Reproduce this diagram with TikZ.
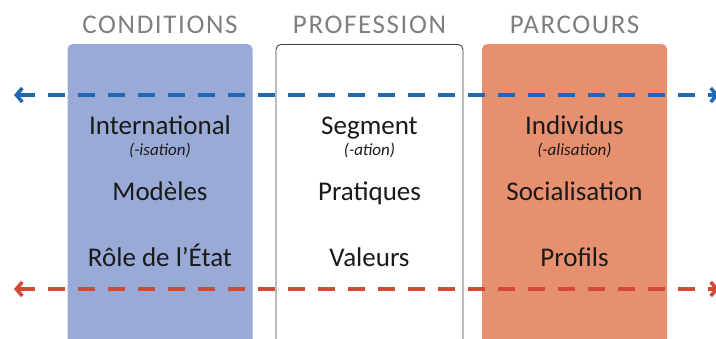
\documentclass[tikz,border=0pt]{standalone}
\usepackage{fontspec}
\setmainfont{Carlito}
\usetikzlibrary{arrows.meta}
\definecolor{boxblue}{HTML}{99AAD6}
\definecolor{boxorange}{HTML}{E6906F}
\definecolor{lineblue}{HTML}{1F69B4}
\definecolor{linered}{HTML}{D24A36}
\definecolor{headgray}{HTML}{7F7F7F}
\definecolor{txt}{HTML}{1A1A1A}
\tikzset{
  colbox/.style={rounded corners=5pt, minimum width=185pt, minimum height=310pt, anchor=north, inner sep=0pt},
  head/.style={font=\fontsize{27}{30}\selectfont\addfontfeature{LetterSpace=6}, text=headgray, anchor=base},
  item/.style={font=\fontsize{27}{30}\selectfont, text=txt, anchor=base},
  sub/.style={font=\fontsize{17}{19}\selectfont\itshape, text=txt, anchor=base},
  flow/.style={line width=4pt, dash pattern=on 17pt off 13pt, {Straight Barb[length=6pt,width=14pt,line width=3.5pt]}-{Straight Barb[length=6pt,width=14pt,line width=3.5pt]}}
}
\begin{document}
\begin{tikzpicture}[x=1pt,y=-1pt]
\useasboundingbox (0,0) rectangle (716,338);
\clip (0,0) rectangle (716,338);
% boxes
\node[colbox, fill=boxblue] (b1) at (160,44) {};
\node[colbox, fill=white, draw=black!75, line width=0.9pt, minimum width=187pt] (b2) at (369.5,44) {};
\node[colbox, fill=boxorange] (b3) at (574.5,44) {};
% headings
\node[head] (h1) at (160,33) {CONDITIONS};
\node[head] (h2) at (369.5,33) {PROFESSION};
\node[head] (h3) at (574.5,33) {PARCOURS};
% arrows
\coordinate (la) at (14,95);
\coordinate (ra) at (719,95);
\coordinate (lb) at (14,289);
\coordinate (rb) at (719,289);
\draw[flow, lineblue] (la) -- (ra);
\draw[flow, linered] (lb) -- (rb);
% items
\node[item] (c1) at (160,134) {International};
\node[sub] (c1s) at (160,155) {(-isation)};
\node[item] (c2) at (160,200) {Modèles};
\node[item] (c3) at (160,266) {Rôle de l’État};
\node[item] (p1) at (369.5,134) {Segment};
\node[sub] (p1s) at (369.5,155) {(-ation)};
\node[item] (p2) at (369.5,200) {Pratiques};
\node[item] (p3) at (369.5,266) {Valeurs};
\node[item] (r1) at (574.5,134) {Individus};
\node[sub] (r1s) at (574.5,155) {(-alisation)};
\node[item] (r2) at (574.5,200) {Socialisation};
\node[item] (r3) at (574.5,266) {Profils};
\end{tikzpicture}
\end{document}
